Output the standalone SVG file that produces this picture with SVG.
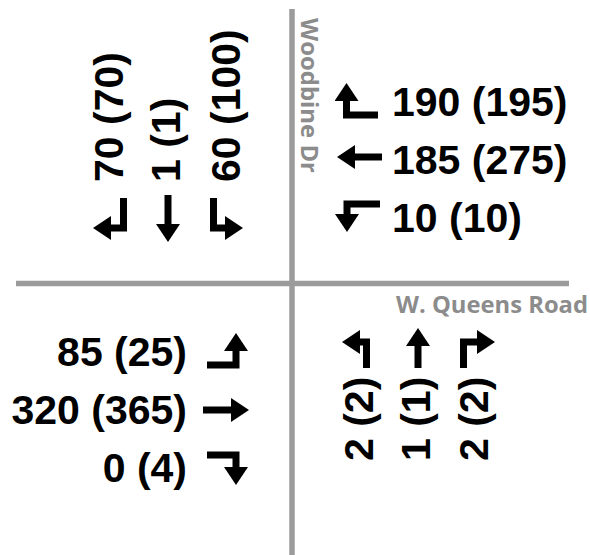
<svg xmlns="http://www.w3.org/2000/svg" width="590" height="555" viewBox="0 0 590 555">
<style>
.road{stroke:#9b9b9b;stroke-width:5.5;fill:none}
.rname{font-family:"Open Sans","Liberation Sans",Arial,sans-serif;font-weight:bold;font-size:24px;fill:#8c8c8c}
.vol{font-family:"Liberation Sans",Arial,sans-serif;font-weight:bold;font-size:41px;fill:#000}
.arr{stroke:#000;stroke-width:7;fill:none;stroke-linejoin:miter;marker-end:url(#head)}
</style>
<defs>
<marker id="head" markerUnits="userSpaceOnUse" markerWidth="18" markerHeight="24" viewBox="0 0 18 24" refX="1" refY="12" orient="auto">
<path d="M0,0 L18,12 L0,24 Z" fill="#000"/>
</marker>
</defs>
<g id="roads">
<line class="road" x1="292" y1="9" x2="292" y2="555"/>
<line class="road" x1="16" y1="283.5" x2="569" y2="283.5"/>
</g>
<g id="road-names">
<text class="rname" transform="translate(301,18) rotate(90)" textLength="155" lengthAdjust="spacingAndGlyphs">Woodbine Dr</text>
<text class="rname" x="396" y="313" textLength="192" lengthAdjust="spacingAndGlyphs">W. Queens Road</text>
</g>
<g id="southbound">
<g id="sb-right"><text class="vol" transform="translate(123,182) rotate(-90)">70 (70)</text><path class="arr" d="M123.5,198 V228 H110"/></g>
<g id="sb-thru"><text class="vol" transform="translate(180,182) rotate(-90)">1 (1)</text><path class="arr" d="M168,195 V225"/></g>
<g id="sb-left"><text class="vol" transform="translate(240,182) rotate(-90)">60 (100)</text><path class="arr" d="M213.5,198 V228 H226"/></g>
</g>
<g id="westbound">
<g id="wb-right"><path class="arr" d="M378,115 H346.5 V100"/><text class="vol" x="392" y="116">190 (195)</text></g>
<g id="wb-thru"><path class="arr" d="M382,157 H354"/><text class="vol" x="392" y="174">185 (275)</text></g>
<g id="wb-left"><path class="arr" d="M380,204 H347 V215"/><text class="vol" x="392" y="232">10 (10)</text></g>
</g>
<g id="eastbound">
<g id="eb-left"><text class="vol" x="187" y="366" text-anchor="end">85 (25)</text><path class="arr" d="M207,365 H236 V350"/></g>
<g id="eb-thru"><text class="vol" x="187" y="424" text-anchor="end">320 (365)</text><path class="arr" d="M203,410 H232"/></g>
<g id="eb-right"><text class="vol" x="187" y="482" text-anchor="end">0 (4)</text><path class="arr" d="M207,455 H236 V468"/></g>
</g>
<g id="northbound">
<g id="nb-left"><path class="arr" d="M366.5,368 V342 H359"/><text class="vol" transform="translate(373,461) rotate(-90)">2 (2)</text></g>
<g id="nb-thru"><path class="arr" d="M418,368 V345"/><text class="vol" transform="translate(430,461) rotate(-90)">1 (1)</text></g>
<g id="nb-right"><path class="arr" d="M463.5,368 V342 H478"/><text class="vol" transform="translate(488,461) rotate(-90)">2 (2)</text></g>
</g>
</svg>
